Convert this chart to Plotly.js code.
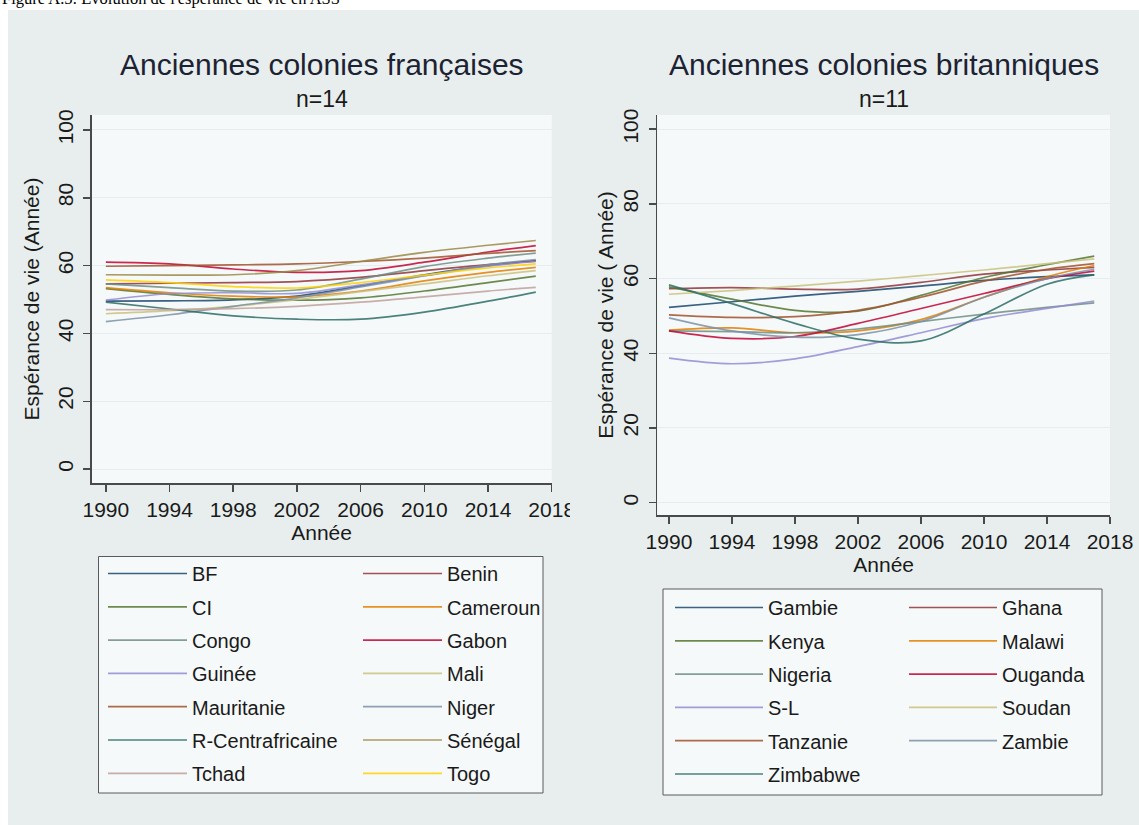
<!DOCTYPE html>
<html><head><meta charset="utf-8">
<script src="https://cdn.plot.ly/plotly-3.0.1.min.js"></script>
<style>
html,body{margin:0;padding:0;background:#fff;width:1139px;height:825px;overflow:hidden;position:relative}
#cap{position:absolute;left:2px;top:-9px;font-family:'Liberation Serif','Times New Roman',serif;font-size:16.5px;line-height:16.5px;color:#000;white-space:nowrap}
#chart{position:absolute;left:8px;top:10px;width:1131px;height:815px}
</style></head><body>
<div id="cap">Figure A.5: Evolution de l'espérance de vie en ASS</div>
<div id="chart"></div>
<script>
// ---- data ----
const years = [1990, 1994, 1998, 2002, 2006, 2010, 2014, 2017];
const yTicks = [0, 20, 40, 60, 80, 100];
const xTicks = [1990, 1994, 1998, 2002, 2006, 2010, 2014, 2018];

// Anciennes colonies françaises
const BF          = [49.5, 49.6, 49.9, 51.0, 54.0, 57.3, 60.0, 61.5];
const Benin       = [54.6, 54.8, 55.0, 55.3, 56.5, 58.5, 60.3, 61.3];
const CI          = [53.2, 51.5, 50.2, 49.8, 50.5, 52.5, 55.0, 56.9];
const Cameroun    = [53.5, 52.0, 51.0, 50.8, 52.5, 55.5, 58.0, 59.5];
const Congo       = [54.6, 53.5, 52.5, 52.8, 56.0, 59.7, 62.2, 63.7];
const Gabon       = [61.0, 60.5, 59.0, 58.0, 58.5, 61.0, 64.0, 65.9];
const Guinee      = [49.8, 51.7, 52.0, 51.8, 54.3, 57.0, 59.8, 61.2];
const Mali        = [45.8, 46.7, 48.0, 50.0, 52.3, 54.6, 57.0, 58.5];
const Mauritanie  = [59.8, 60.0, 60.2, 60.5, 61.2, 62.2, 63.6, 64.4];
const Niger       = [43.5, 45.5, 48.0, 50.5, 53.7, 57.0, 60.2, 61.8];
const RCentrafr   = [49.2, 47.2, 45.2, 44.2, 44.2, 46.3, 49.5, 52.2];
const Senegal     = [57.3, 57.2, 57.3, 58.5, 61.2, 63.9, 66.0, 67.4];
const Tchad       = [47.0, 47.0, 47.3, 48.0, 49.2, 50.8, 52.5, 53.6];
const Togo        = [55.8, 55.0, 53.8, 53.4, 55.0, 57.2, 59.3, 60.5];

const frNames  = ['BF','Benin','CI','Cameroun','Congo','Gabon','Guinée','Mali','Mauritanie','Niger','R-Centrafricaine','Sénégal','Tchad','Togo'];
const frValues = [BF, Benin, CI, Cameroun, Congo, Gabon, Guinee, Mali, Mauritanie, Niger, RCentrafr, Senegal, Tchad, Togo];

// Anciennes colonies britanniques
const Gambie   = [52.3, 53.8, 55.3, 56.6, 58.0, 59.5, 60.5, 61.0];
const Ghana    = [57.3, 57.6, 57.2, 57.2, 59.0, 61.2, 62.3, 63.0];
const Kenya    = [57.8, 54.5, 51.5, 51.3, 55.5, 60.3, 63.7, 66.0];
const Malawi   = [46.2, 46.8, 45.5, 46.0, 49.0, 55.0, 60.5, 63.5];
const Nigeria  = [46.0, 45.8, 45.5, 46.5, 48.5, 50.5, 52.3, 53.5];
const Ouganda  = [46.0, 44.0, 44.5, 48.0, 52.0, 56.0, 60.0, 62.0];
const SL       = [38.7, 37.2, 38.5, 41.8, 45.5, 49.3, 52.0, 54.0];
const Soudan   = [55.8, 56.8, 58.0, 59.3, 60.8, 62.3, 64.0, 65.3];
const Tanzanie = [50.3, 49.6, 49.8, 51.5, 55.0, 59.3, 62.5, 64.0];
const Zambie   = [49.5, 46.0, 44.3, 45.0, 48.5, 55.0, 60.0, 62.5];
const Zimbabwe = [58.3, 53.3, 48.0, 43.8, 43.3, 50.5, 58.5, 61.0];

const brNames  = ['Gambie','Ghana','Kenya','Malawi','Nigeria','Ouganda','S-L','Soudan','Tanzanie','Zambie','Zimbabwe'];
const brValues = [Gambie, Ghana, Kenya, Malawi, Nigeria, Ouganda, SL, Soudan, Tanzanie, Zambie, Zimbabwe];

// ---- style ----
const palette = ['#1a476f','#90353b','#55752f','#e37e00','#6e8e84','#c10534','#938dd2','#cac27e','#a0522d','#7b92a8','#2d6d66','#9c8847','#bfa19c','#ffd200'];
const W = 1131, H = 815, OX = 8, OY = 10;
const px = x => (x - OX) / W;
const py = y => 1 - (y - OY) / H;
const TXT = '#1a1a1a';
const FONT = 'Liberation Sans, Arial, sans-serif';
const BG = '#e7eeed', PBG = '#f6f9f9';

const traces = [];
frNames.forEach((n, i) => traces.push({
  x: years, y: frValues[i], name: n, type: 'scatter', mode: 'lines', opacity: 0.85,
  line: {color: palette[i], width: 1.7, shape: 'spline', smoothing: 1},
  xaxis: 'x', yaxis: 'y', legend: (i % 2 === 0) ? 'legend' : 'legend2', legendgroup: 'f' + i
}));
brNames.forEach((n, i) => traces.push({
  x: years, y: brValues[i], name: n, type: 'scatter', mode: 'lines', opacity: 0.85,
  line: {color: palette[i], width: 1.7, shape: 'spline', smoothing: 1},
  xaxis: 'x2', yaxis: 'y2', legend: (i % 2 === 0) ? 'legend3' : 'legend4', legendgroup: 'b' + i
}));

const xAx = (dom, range) => ({
  domain: dom, range: range, tickvals: xTicks, ticktext: xTicks.map(String),
  showline: true, linecolor: '#4a4a4a', linewidth: 1.5, ticks: 'outside', ticklen: 7, tickwidth: 1.5, tickcolor: '#4a4a4a',
  showgrid: false, zeroline: false, tickfont: {size: 21, color: TXT}, ticklabelstandoff: 0,
  title: {text: 'Année', font: {size: 21, color: TXT}, standoff: 0}
});
const yAx = (dom, range, anchor, ttl, so) => ({
  domain: dom, range: range, tickvals: yTicks, anchor: anchor,
  showline: true, linecolor: '#4a4a4a', linewidth: 1.5, ticks: 'outside', ticklen: 7, tickwidth: 1.5, tickcolor: '#4a4a4a',
  showgrid: true, gridcolor: '#e6edf1', gridwidth: 1, zeroline: false, tickangle: -90,
  tickfont: {size: 21, color: TXT}, ticklabelstandoff: 2,
  title: {text: ttl, font: {size: 21, color: TXT}, standoff: so}
});

const legBase = (x, y, iw) => ({
  x: x, y: y, xanchor: 'left', yanchor: 'top', orientation: 'v',
  bgcolor: 'rgba(0,0,0,0)', borderwidth: 0, font: {size: 20, color: TXT, family: FONT},
  itemwidth: iw, traceorder: 'grouped', tracegroupgap: 4.3
});

const layout = {
  width: W, height: H, autosize: false,
  margin: {l: 0, r: 0, t: 0, b: 0, pad: 0},
  paper_bgcolor: BG, plot_bgcolor: PBG,
  font: {family: FONT, color: TXT},
  showlegend: true,
  xaxis: Object.assign(xAx([px(91.5), px(551.7)], [1989.1, 2018]), {anchor: 'y'}),
  yaxis: yAx([py(483), py(115)], [-4.1, 104.4], 'x', 'Espérance de vie (Année)', 8),
  xaxis2: Object.assign(xAx([px(657.3), px(1110)], [1989.26, 2018]), {anchor: 'y2'}),
  yaxis2: yAx([py(515), py(115)], [-3.3, 103.8], 'x2', 'Espérance de vie ( Année)', 0),
  legend:  legBase(px(103), py(554), 79),
  legend2: legBase(px(358), py(554), 79),
  legend3: legBase(px(670), py(588), 88),
  legend4: legBase(px(904), py(588), 88),
  shapes: [
    {type: 'rect', xref: 'paper', yref: 'paper', x0: px(98.5), x1: px(543), y0: py(793), y1: py(556.5),
     fillcolor: PBG, line: {color: '#5a5a5a', width: 1}, layer: 'below'},
    {type: 'rect', xref: 'paper', yref: 'paper', x0: px(663), x1: px(1102), y0: py(795), y1: py(589),
     fillcolor: PBG, line: {color: '#5a5a5a', width: 1}, layer: 'below'},
    {type: 'rect', xref: 'paper', yref: 'paper', x0: px(570), x1: px(592), y0: py(528), y1: py(494),
     fillcolor: BG, line: {width: 0}, layer: 'above'}
  ],
  annotations: [
    {text: 'Anciennes colonies françaises', x: px(321.6), y: py(64), xref: 'paper', yref: 'paper', xanchor: 'center', yanchor: 'middle', showarrow: false, font: {size: 30, color: '#1d2233'}},
    {text: 'n=14', x: px(321.6), y: py(99), xref: 'paper', yref: 'paper', xanchor: 'center', yanchor: 'middle', showarrow: false, font: {size: 23, color: TXT}},
    {text: 'Anciennes colonies britanniques', x: px(883.6), y: py(64), xref: 'paper', yref: 'paper', xanchor: 'center', yanchor: 'middle', showarrow: false, font: {size: 30, color: '#1d2233'}},
    {text: 'n=11', x: px(883.6), y: py(99), xref: 'paper', yref: 'paper', xanchor: 'center', yanchor: 'middle', showarrow: false, font: {size: 23, color: TXT}}
  ]
};

Plotly.newPlot('chart', traces, layout, {displayModeBar: false, staticPlot: true});
</script>
</body></html>
